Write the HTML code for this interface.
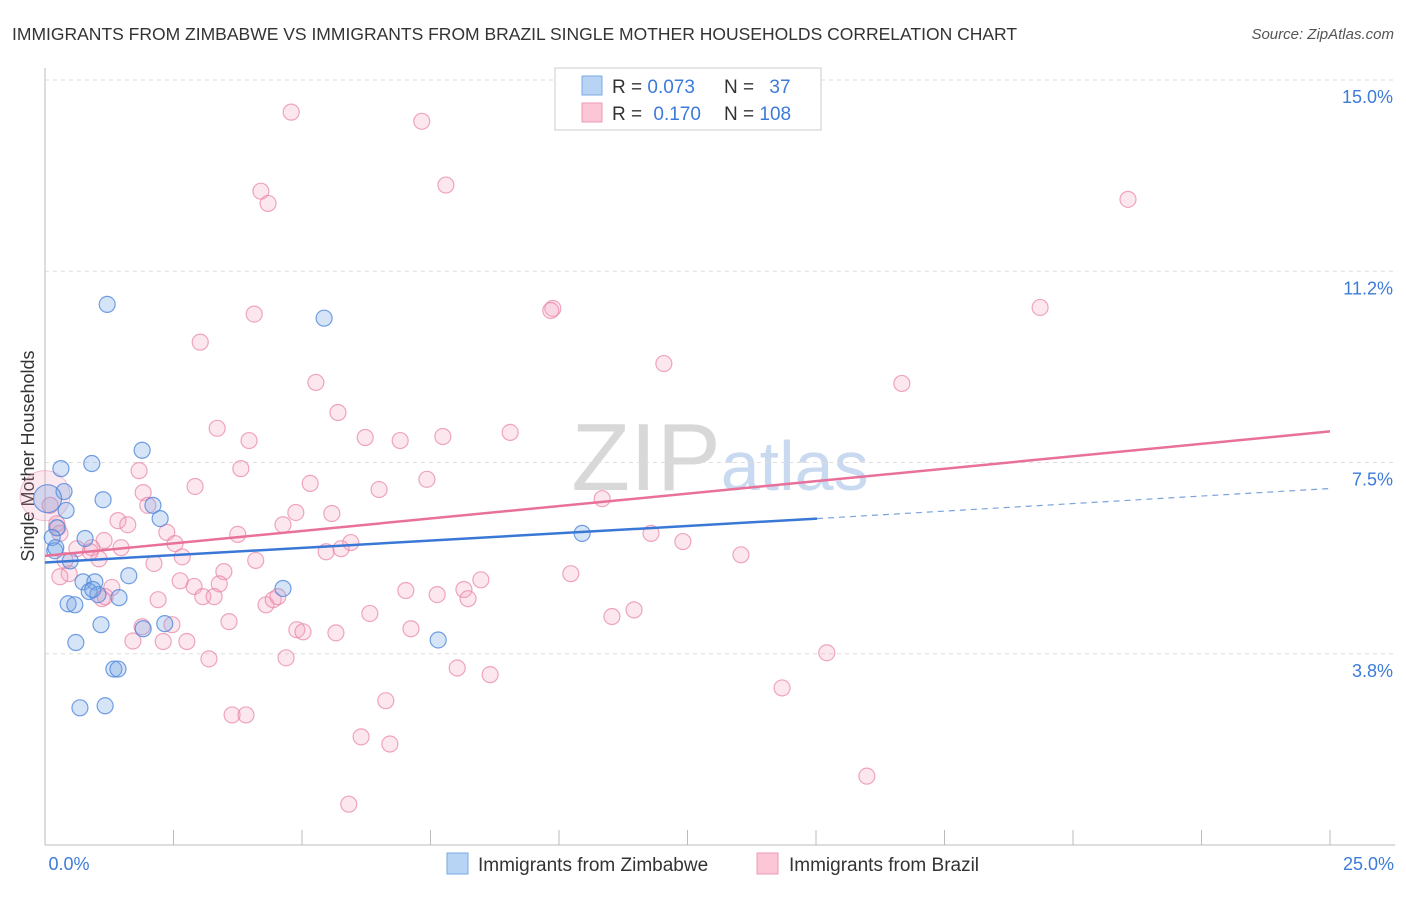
<!DOCTYPE html>
<html><head><meta charset="utf-8"><style>
body{margin:0;background:#fff;font-family:"Liberation Sans",sans-serif;}
svg text{font-family:"Liberation Sans",sans-serif;}
</style></head><body>
<svg id="chart" width="1406" height="892">
<text x="12" y="40" font-size="17.5" fill="#333">IMMIGRANTS FROM ZIMBABWE VS IMMIGRANTS FROM BRAZIL SINGLE MOTHER HOUSEHOLDS CORRELATION CHART</text>
<text x="1394" y="39" font-size="15" fill="#555" font-style="italic" text-anchor="end">Source: ZipAtlas.com</text>
<text x="34" y="456" font-size="18" fill="#333" text-anchor="middle" transform="rotate(-90 34 456)">Single Mother Households</text>
<text x="720" y="490" font-size="96" fill="#ddd" text-anchor="middle" font-family="Liberation Serif"><tspan fill="#d8d8d8">ZIP</tspan><tspan fill="#c9daf0" font-family="Liberation Sans" font-size="70">atlas</tspan></text>
<g id="grid"></g><g id="axes"></g><g id="pts"></g><g id="trends"></g>
<g>
<rect x="555" y="68" width="266" height="62" fill="#fff" stroke="#ccc"/>
<rect x="582" y="76" width="20" height="19" fill="#b8d4f5" stroke="#7aa8e6"/>
<rect x="582" y="103" width="20" height="19" fill="#fbc6d6" stroke="#ef9ab6"/>
<text x="612" y="93" font-size="19" fill="#333">R = <tspan fill="#3d7bd9">0.073</tspan></text>
<text x="724" y="93" font-size="19" fill="#333">N = <tspan fill="#3d7bd9" dx="10">37</tspan></text>
<text x="612" y="120" font-size="19" fill="#333">R = <tspan fill="#3d7bd9" dx="6">0.170</tspan></text>
<text x="724" y="120" font-size="19" fill="#333">N = <tspan fill="#3d7bd9">108</tspan></text>
</g>
<g>
<rect x="447" y="853" width="21" height="21" fill="#b8d4f5" stroke="#7aa8e6"/>
<text x="478" y="871" font-size="19" fill="#333">Immigrants from Zimbabwe</text>
<rect x="757" y="853" width="21" height="21" fill="#fbc6d6" stroke="#ef9ab6"/>
<text x="789" y="871" font-size="19" fill="#333">Immigrants from Brazil</text>
</g>
</svg>
<script>
const yTicks=[3.75,7.5,11.25,15];
const yTickLabels=["3.8%","7.5%","11.2%","15.0%"];
const xTickCount=10;
const xLabels=["0.0%","25.0%"];
const blueX=[1.21,5.43,1.89,0.91,0.31,0.37,1.13,0.41,2.10,2.24,0.23,0.14,0.78,0.19,0.49,1.63,0.74,0.97,4.63,0.86,1.03,1.44,0.45,0.58,1.09,1.91,2.33,0.60,7.65,1.34,1.42,0.68,1.17,10.45,0.21,0.93,0.05];
const blueY=[10.60,10.33,7.74,7.48,7.38,6.93,6.77,6.56,6.66,6.40,6.22,6.03,6.01,5.77,5.57,5.28,5.16,5.16,5.03,4.97,4.91,4.85,4.73,4.71,4.32,4.24,4.34,3.97,4.02,3.45,3.45,2.69,2.73,6.11,5.83,5.01,6.79];
const pinkX=[4.79,7.33,7.80,4.20,4.34,21.07,4.07,9.88,9.84,19.36,3.02,12.04,5.27,16.67,5.70,3.35,3.97,6.23,6.91,7.74,9.05,1.83,3.81,2.92,5.16,6.50,7.43,10.84,1.91,2.00,4.88,5.58,1.42,1.61,0.23,0.29,2.37,4.63,3.75,11.79,12.41,1.15,2.53,5.95,5.47,5.76,13.54,0.91,1.48,0.62,1.05,2.67,2.12,4.10,0.47,3.48,10.23,8.48,2.63,3.39,1.30,2.90,8.15,7.02,7.63,3.07,3.29,4.30,4.44,4.53,8.23,1.11,2.20,1.89,2.47,6.32,11.03,11.46,3.58,4.90,5.02,5.66,7.12,1.71,2.30,2.76,3.19,4.69,15.21,8.02,8.66,14.34,6.63,3.64,3.91,6.15,6.71,15.99,5.91,0.29,0.25,0.10,1.17,0.39,0.88];
const pinkY=[14.37,14.19,12.94,12.82,12.58,12.66,10.41,10.52,10.48,10.54,9.86,9.44,9.07,9.05,8.48,8.17,7.93,7.99,7.93,8.01,8.09,7.34,7.38,7.03,7.09,6.97,7.17,6.79,6.91,6.66,6.52,6.50,6.36,6.28,6.30,6.11,6.13,6.28,6.09,6.11,5.95,5.97,5.91,5.93,5.75,5.81,5.69,5.83,5.83,5.81,5.61,5.65,5.52,5.58,5.32,5.36,5.32,5.20,5.18,5.12,5.05,5.07,5.01,4.99,4.91,4.87,4.87,4.71,4.81,4.87,4.83,4.83,4.81,4.28,4.32,4.54,4.48,4.61,4.38,4.22,4.18,4.16,4.24,4.00,3.99,3.99,3.65,3.67,3.77,3.47,3.34,3.08,2.83,2.55,2.55,2.12,1.98,1.35,0.80,5.26,6.22,6.66,4.87,5.58,5.75];
const pinkTrend=[[0,5.67],[25,8.11]];
const blueTrendSolid=[[0,5.54],[15.02,6.40]];
const blueTrendDash=[[15.02,6.40],[25,6.99]];
const X0=45,X1=1330,Y0=845,Y15=80;
const sx=v=>X0+(X1-X0)*v/25;
const sy=v=>Y0-(Y0-Y15)*v/15;
const NS="http://www.w3.org/2000/svg";
function mk(tag,attrs,parent){const e=document.createElementNS(NS,tag);for(const k in attrs)e.setAttribute(k,attrs[k]);document.getElementById(parent).appendChild(e);return e;}
yTicks.forEach((t,i)=>{
  const l=mk('line',{x1:X0,x2:1395,y1:sy(t),y2:sy(t),stroke:'#ddd','stroke-dasharray':'4,4'},'grid');
  
  
  const tx=mk('text',{x:1393,y:sy(t)+23,'font-size':18,fill:'#3d7bd9','text-anchor':'end'},'grid');
  tx.textContent=yTickLabels[i];
  
  
});
const ax=mk('line',{x1:X0,x2:X0,y1:68,y2:Y0,stroke:'#bbb'},'axes');


const bx=mk('line',{x1:X0,x2:1395,y1:Y0,y2:Y0,stroke:'#bbb'},'axes');


for(let i=0;i<=xTickCount;i++){
  const x=sx(25*i/xTickCount);
  const t=mk('line',{x1:x,x2:x,y1:830,y2:Y0,stroke:'#bbb'},'axes');
  
  
}
[[X0+24,'middle',xLabels[0]],[1394,'end',xLabels[1]]].forEach(a=>{
  const t=mk('text',{x:a[0],y:870,'font-size':18,fill:'#3d7bd9','text-anchor':a[1]},'axes');
  t.textContent=a[2];
  
  
});
const big1=mk('circle',{cx:sx(0),cy:sy(6.85),r:25,fill:'rgba(240,150,180,0.22)',stroke:'rgba(232,140,170,0.5)'},'pts');


pinkX.forEach((v,i)=>{
  const c=mk('circle',{cx:sx(v),cy:sy(pinkY[i]),r:8,fill:'rgba(245,160,190,0.25)',stroke:'rgba(232,130,165,0.7)','stroke-width':1.2},'pts');
  
  
});
blueX.forEach((v,i)=>{
  const c=mk('circle',{cx:sx(v),cy:sy(blueY[i]),r:i==blueX.length-1?14:8,fill:'rgba(120,165,230,0.3)',stroke:'rgba(80,135,220,0.8)','stroke-width':1.2},'pts');
  
  
});
function tl(p,st,dash,name){
  const l=mk('line',{x1:sx(p[0][0]),y1:sy(p[0][1]),x2:sx(p[1][0]),y2:sy(p[1][1]),stroke:st,'stroke-width':dash?1.2:2.5},'trends');
  if(dash)l.setAttribute('stroke-dasharray','6,5');
  
  
}
tl(pinkTrend,'#e8709a',false,'brazil-trend-line');
tl(blueTrendSolid,'#3a78d6',false,'zimbabwe-trend-line');
tl(blueTrendDash,'#7aa3dd',true,'zimbabwe-trend-extension');
</script>
</body></html>
